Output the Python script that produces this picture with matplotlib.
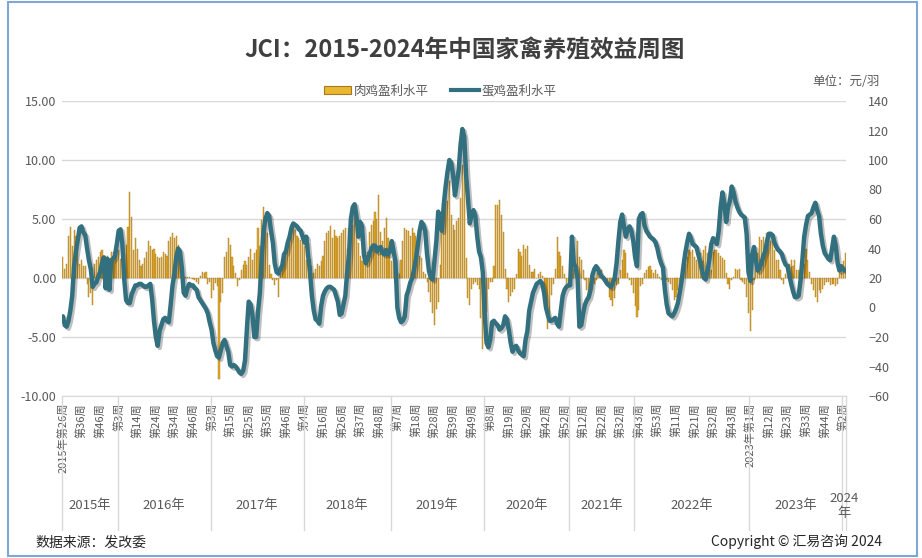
import numpy as np
import matplotlib
matplotlib.use('Agg')
import matplotlib.pyplot as plt
import matplotlib.patheffects as pe
from matplotlib.patches import Patch, Rectangle
from matplotlib.lines import Line2D
from matplotlib.transforms import blended_transform_factory

plt.rcParams['font.family'] = ['Noto Sans CJK SC', 'DejaVu Sans']

# 肉鸡盈利水平 (元/羽, left axis), one value per week
broiler = [
    1.8, 0.8, 1.2, 3.6, 4.3, 2.7, 4.1, 3.6, 2.7, 1.2,
    1.5, 1.0, 1.0, -0.5, -1.6, -1.3, -2.3, 1.2, 1.5, 1.8,
    2.2, 2.4, 1.7, 1.9, 1.9, 1.5, 2.2, 2.2, 1.8, 2.7,
    2.4, 1.6, 1.2, 2.0, 2.8, 4.3, 7.3, 5.2, 2.4, 3.4,
    2.5, 1.5, 1.0, 1.2, 1.7, 2.2, 3.1, 2.7, 2.4, 2.5,
    2.0, 1.8, 1.7, 1.8, 2.2, 2.0, 1.9, 3.1, 3.5, 3.8,
    3.4, 3.6, 2.8, 1.8, 1.1, 0.2, 0.1, 0.1, 0.1, 0.0,
    -0.1, -0.2, -0.3, -0.5, 0.2, 0.5, 0.4, 0.5, -0.5, -0.3,
    -1.7, -1.0, -0.4, -0.7, -8.6, -2.0, -1.3, 1.8, 2.2, 3.4,
    2.8, 1.8, 1.0, 0.4, -0.7, -0.2, 0.7, 1.1, 1.4, 1.1,
    1.8, 2.5, 1.5, 2.1, 2.4, 4.2, 2.7, 4.9, 6.0, 5.0,
    3.8, 1.1, 0.3, -0.2, -0.6, -0.2, -1.6, 1.1, 1.5, 1.8,
    2.1, 2.7, 3.6, 4.1, 4.6, 4.1, 3.6, 3.4, 3.2, 3.0,
    2.7, 1.5, 2.9, 1.6, 1.0, 0.4, 0.8, 1.2, 1.0, 1.4,
    1.9, 3.1, 3.8, 4.0, 4.4, 3.4, 4.1, 3.6, 3.4, 3.6,
    3.8, 4.1, 4.2, 2.5, 4.2, 4.4, 4.5, 5.3, 4.2, 3.0,
    1.9, 1.4, 3.6, 1.9, 2.2, 3.9, 4.5, 4.8, 5.6, 5.0,
    7.0, 3.9, 3.1, 4.2, 5.1, 3.4, 2.0, 1.4, 1.7, 0.5,
    0.5, 0.3, 1.5, 3.1, 4.2, 4.1, 4.0, 3.6, 4.2, 3.8,
    3.6, 3.1, 1.9, 1.7, 0.5, 0.3, -0.3, -1.2, -2.0, -3.0,
    -4.0, -2.6, -2.0, 1.1, 5.3, 5.9, 7.3, 6.5, 8.2, 5.3,
    4.5, 4.1, 4.8, 5.1, 6.8, 9.6, 9.9, 1.7, -1.7, -2.3,
    -0.9, -0.5, -0.3, -0.6, -0.9, -3.4, -6.0, -3.7, -2.9, -0.9,
    -0.3, -0.3, 1.0, 6.2, 6.2, 6.6, 5.3, 3.9, 0.8, -0.9,
    -2.0, -1.5, -1.2, -0.9, 0.3, 2.5, 2.2, 1.9, 2.8, 2.5,
    2.7, 1.1, 0.5, 0.5, 0.8, 0.0, 0.3, 0.5, 0.2, -0.6,
    -2.0, -4.3, -3.1, -1.4, -0.5, 0.8, 3.5, 2.2, 1.9, 1.0,
    0.3, -0.6, -0.4, -0.3, 0.3, 0.8, 1.1, 3.1, 1.8, 1.5,
    0.7, -0.2, -1.0, -1.6, -1.3, -0.9, -0.5, -0.2, 0.4, 0.5,
    0.7, 0.1, -0.3, -0.7, -1.6, -1.9, -2.4, -1.7, -0.6, -0.5,
    0.7, 1.5, 2.4, 2.1, 0.4, -0.2, -0.6, -1.3, -2.4, -3.3,
    -2.7, -0.7, -0.5, 0.4, 0.7, 0.9, 1.0, 0.7, 0.4, 0.7,
    0.3, 0.1, -0.2, 0.1, 0.1, -0.2, -0.3, -0.5, -1.0, -1.9,
    -1.6, -1.0, -0.7, -0.5, 0.7, 1.2, 1.8, 2.4, 2.2, 2.4,
    1.8, 1.5, 1.8, 2.1, 1.4, 2.4, 2.7, 2.1, 1.0, 0.7,
    2.2, 2.4, 2.4, 2.1, 1.9, 1.7, 1.5, 0.4, -0.5, -0.9,
    -0.2, 0.1, 0.8, 0.7, 0.8, -0.2, -0.3, -0.5, -1.6, -3.0,
    -4.5, -2.7, -0.2, 1.8, 2.1, 3.5, 3.2, 3.5, 2.9, 3.8,
    3.5, 3.1, 3.2, 2.4, 1.5, 1.5, 0.7, -0.2, -0.5, 0.3,
    1.0, 1.2, 1.5, 1.0, 1.5, 0.7, 0.7, 0.4, 0.1, 1.2,
    2.5, 1.5, 0.5, -0.5, -1.0, -1.6, -2.0, -1.0, -1.3, -0.9,
    -0.6, -0.3, -0.3, -0.6, -0.5, -0.5, -0.7, -0.5, 0.4, 1.0,
    1.4, 2.1,
]

# 蛋鸡盈利水平 (right axis)
layer = [
    -6, -12, -13, -9, -2, 8, 28, 38, 46, 54,
    55, 51, 49, 40, 32, 26, 14, 16, 17, 21,
    24, 30, 34, 13, 33, 12, 32, 33, 35, 43,
    52, 53, 43, 19, 5, 3, 3, 9, 12, 15,
    15, 16, 16, 15, 14, 14, 15, 16, 6, -9,
    -20, -26, -16, -12, -8, -7, -9, -10, 2, 15,
    23, 34, 40, 38, 27, 10, 8, 13, 16, 15,
    15, 13, 12, 7, 5, 3, 1, -1, -4, -10,
    -15, -24, -29, -33, -34, -29, -24, -22, -26, -30,
    -39, -40, -39, -40, -42, -44, -45, -43, -36, -15,
    4, 2, -5, -20, -20, -3, 10, 34, 52, 60,
    64, 62, 52, 44, 30, 24, 23, 26, 28, 36,
    38, 44, 48, 54, 57, 56, 55, 53, 52, 48,
    44, 48, 35, 24, 8, -2, -8, -9, -11, 1,
    8, 11, 13, 14, 14, 13, 12, 8, 4, -5,
    -4, 2, 8, 24, 36, 60, 68, 70, 62, 48,
    58, 55, 36, 30, 33, 36, 40, 42, 42, 38,
    40, 41, 37, 36, 39, 36, 38, 45, 38, 31,
    0, -7, -10, -9, -6, 8, 12, 17, 20, 26,
    33, 42, 52, 58, 56, 52, 36, 25, 20, 19,
    32, 45, 65, 58, 52, 70, 82, 92, 100, 98,
    90, 76, 84, 93, 110, 121, 116, 90, 74, 57,
    63, 66, 62, 48, 38, 34, 24, -4, -24, -27,
    -22, -10, -9, -11, -12, -15, -14, -12, -6, -8,
    -15, -24, -30, -27, -26, -29, -31, -32, -33, -22,
    -16, -2, 4, 10, 13, 16, 17, 18, 16, 10,
    0, -5, -9, -9, -8, -7, -11, -13, -2, 8,
    12, 14, 15, 15, 48, 30, 27, 20, -13, -12,
    -4, 2, 5, 7, 12, 22, 26, 28, 26, 23,
    21, 20, 18, 16, 15, 14, 17, 20, 30, 45,
    58, 63, 55, 48, 53, 55, 52, 45, 34, 28,
    60, 63, 64, 56, 52, 50, 48, 47, 46, 44,
    40, 34, 30, 27, 12, 2, -4, -5, -6, -4,
    -1, 3, 10, 18, 28, 37, 44, 50, 47, 43,
    42, 41, 36, 31, 25, 20, 19, 25, 33, 43,
    47, 45, 43, 52, 68, 78, 71, 58, 68, 72,
    82, 78, 72, 68, 65, 63, 62, 61, 50, 24,
    18, 36, 41, 32, 25, 27, 30, 35, 38, 45,
    50, 50, 49, 44, 41, 39, 38, 36, 32, 29,
    28, 22, 16, 11, 7, 7, 8, 18, 32, 48,
    56, 62, 63, 64, 68, 71, 66, 62, 50, 42,
    37, 35, 33, 32, 40, 48, 42, 30, 25, 28,
    26, 25,
]

# every 10th week label
week_labels = [
    '2015年第26周', '第36周', '第46周',
    '第3周', '第14周', '第24周', '第34周', '第46周',
    '第3周', '第15周', '第25周', '第35周', '第46周',
    '第4周', '第16周', '第26周', '第37周', '第48周',
    '第7周', '第18周', '第28周', '第39周', '第49周',
    '第8周', '第19周', '第29周', '第42周', '第52周',
    '第12周', '第22周', '第32周',
    '第43周', '第53周', '第11周', '第21周', '第32周', '第43周',
    '2023年第1周', '第12周', '第23周', '第33周', '第44周',
    '第2周',
]
years = ['2015年', '2016年', '2017年', '2018年', '2019年', '2020年',
         '2021年', '2022年', '2023年', '2024\n年']
year_start = [0, 30, 80, 130, 177, 227, 273, 308, 370, 420]

n = len(broiler)
W, H = 922, 558
fig = plt.figure(figsize=(W / 100, H / 100), dpi=100)
L, R, T, B = 62, 846, 101, 396
ax = fig.add_axes([L / W, 1 - B / H, (R - L) / W, (B - T) / H])

x = np.arange(n) + 0.5
ax.bar(x, broiler, width=0.6, color='#E3AA2B', edgecolor='#A8791C',
       linewidth=0.3, zorder=2)
ax.set_xlim(0, n)
ax.set_ylim(-10, 15)
yt = np.arange(-10, 16, 5)
ax.set_yticks(yt)
ax.set_yticklabels(['%.2f' % v for v in yt])
ax.grid(axis='y', color='#D9D9D9', lw=1)
ax.set_axisbelow(True)
for s in ['top', 'left', 'right']:
    ax.spines[s].set_visible(False)
ax.spines['bottom'].set_color('#D9D9D9')
ax.tick_params(axis='y', length=0, labelsize=9, labelcolor='#595959', pad=4)
ax.set_xticks(x[::10])
ax.set_xticklabels(week_labels, rotation=90, fontsize=8, color='#595959')
ax.tick_params(axis='x', length=0, pad=5)

ax2 = ax.twinx()
ax2.plot(x, layer, color='#33707F', lw=3.2, solid_joinstyle='round',
         solid_capstyle='round', zorder=3,
         path_effects=[pe.SimpleLineShadow(offset=(1.5, -1.5), shadow_color='black', alpha=0.25),
                       pe.Normal()])
ax2.set_ylim(-60, 140)
ax2.set_yticks(np.arange(-60, 141, 20))
for s in ax2.spines.values():
    s.set_visible(False)
ax2.tick_params(length=0, labelsize=9, labelcolor='#595959', pad=16)

# year groups under the week labels
trans = blended_transform_factory(ax.transData, ax.transAxes)
bounds = year_start + [n]
for b in bounds:
    ax.plot([b, b], [0, -(530 - B) / (B - T)], transform=trans, clip_on=False,
            color='#D9D9D9', lw=1)
for i, y in enumerate(years):
    c = (bounds[i] + bounds[i + 1]) / 2
    ax.text(c, -(506 - B) / (B - T), y, transform=trans, ha='center', va='center',
            fontsize=9.5, color='#595959', linespacing=1.3)

fig.text(465 / W, 1 - 50 / H, 'JCI：2015-2024年中国家禽养殖效益周图', ha='center',
         va='center', fontsize=17, fontweight='bold', color='#3F3F3F')
fig.text(880 / W, 1 - 82 / H, '单位：元/羽', ha='right', va='center',
         fontsize=9, color='#595959')

handles = [Patch(facecolor='#E8B830', edgecolor='#A8791C', lw=0.8),
           Line2D([], [], color='#33707F', lw=3)]
fig.legend(handles, ['肉鸡盈利水平', '蛋鸡盈利水平'], loc='center',
           bbox_to_anchor=(440 / W, 1 - 91 / H), ncol=2, frameon=False,
           fontsize=9, labelcolor='#595959', handlelength=2.2,
           handleheight=0.6, handletextpad=0.2, columnspacing=1.8)

fig.text(35 / W, 1 - 543 / H, '数据来源：发改委', ha='left', va='center',
         fontsize=10, color='#262626')
fig.text(882 / W, 1 - 541 / H, 'Copyright © 汇易咨询 2024', ha='right',
         va='center', fontsize=10, color='#262626')

fig.patches.append(Rectangle((8 / W, 2 / H), 909 / W, 554 / H,
                             transform=fig.transFigure, fill=False,
                             edgecolor='#7FA7D6', lw=1.5))

fig.savefig('out.png', dpi=100)
